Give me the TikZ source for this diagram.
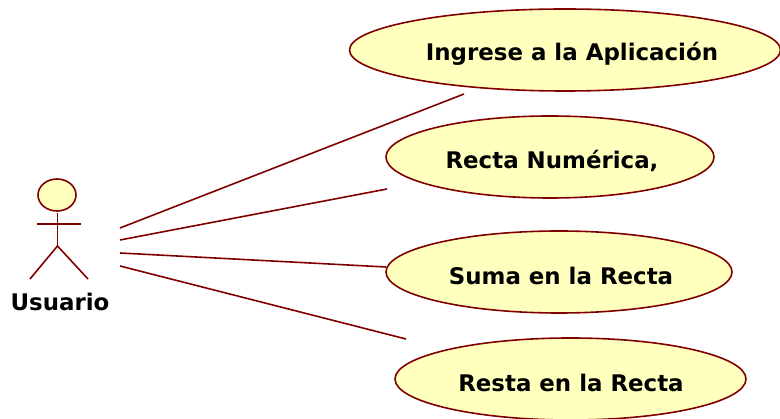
\documentclass[tikz,border=0pt]{standalone}
\usepackage{fontspec}
\usetikzlibrary{shapes.geometric}
\setmainfont{DejaVu Sans}
\definecolor{umlred}{RGB}{128,0,0}
\definecolor{umlfill}{RGB}{255,255,190}
\begin{document}
\begin{tikzpicture}[x=1pt,y=-1pt,
    usecase/.style={draw=umlred, fill=umlfill, ellipse, line width=1.6pt, inner sep=0pt, minimum height=82pt},
    caption/.style={font=\bfseries\fontsize{22.9}{26}\selectfont, text=black, inner sep=0pt},
    link/.style={draw=umlred, line width=1.6pt}]
            \useasboundingbox (0,0) rectangle (780,419);

            % Actor
            \node[usecase, minimum width=38pt, minimum height=32pt] (head) at (57,195) {};
            \coordinate (neck) at (57.5,213);
            \coordinate (hip) at (57.5,246);
            \coordinate (armL) at (37,224);
            \coordinate (armR) at (81,224);
            \coordinate (footL) at (30,279);
            \coordinate (footR) at (88,279);
            \draw[link] (neck) -- (hip);
            \draw[link, line width=1.1pt] (armL) -- (armR);
            \draw[link] (footL) -- (hip) -- (footR);
            \node[caption] (usuario) at (60,302) {Usuario};

            % Use cases
            \node[usecase, minimum width=431pt] (ingrese) at (565,50) {};
            \node[caption] at (572,54) {Ingrese a la Aplicación};
            \node[usecase, minimum width=328pt] (recta) at (550,157) {};
            \node[caption] at (552,161) {Recta Numérica,};
            \node[usecase, minimum width=346pt] (suma) at (559,272) {};
            \node[caption] at (561,276) {Suma en la Recta};
            \node[usecase, minimum width=351pt] (resta) at (570.5,379) {};
            \node[caption] at (571,383) {Resta en la Recta};

            % Associations
            \coordinate (actorA) at (120,228);
            \coordinate (actorB) at (120,240);
            \coordinate (actorC) at (120,253);
            \coordinate (actorD) at (120,266);
            \coordinate (endA) at (464,94);
            \coordinate (endB) at (387,189);
            \coordinate (endC) at (386,267);
            \coordinate (endD) at (406,339);
            \draw[link] (actorA) -- (endA);
            \draw[link] (actorB) -- (endB);
            \draw[link] (actorC) -- (endC);
            \draw[link] (actorD) -- (endD);
\end{tikzpicture}
\end{document}
